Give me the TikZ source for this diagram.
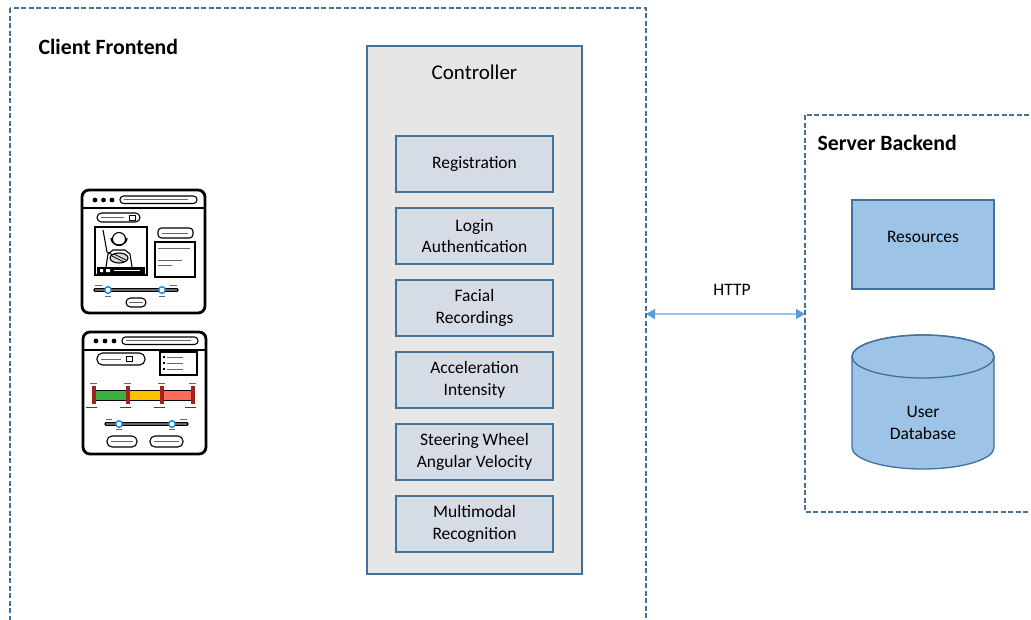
\documentclass[tikz,border=0pt]{standalone}
\usepackage{fontspec}
\setmainfont{Carlito}
\usetikzlibrary{arrows.meta,positioning}

\definecolor{boxline}{HTML}{41719C}
\definecolor{ctrlfill}{HTML}{E7E6E6}
\definecolor{modfill}{HTML}{D6DCE5}
\definecolor{resfill}{HTML}{9DC3E6}
\definecolor{httpline}{HTML}{9DC3E6}
\definecolor{tipblue}{HTML}{5B9BD5}
\definecolor{knob}{HTML}{1E88E5}
\definecolor{barred}{HTML}{FF6B5B}
\definecolor{baryellow}{HTML}{FFC000}
\definecolor{bargreen}{HTML}{3CB043}
\definecolor{post}{HTML}{A3221C}

\begin{document}
\begin{tikzpicture}[x=1pt,y=-1pt,
    txt/.style = {font=\fontsize{17.5}{21.5}\selectfont, align=center},
    head/.style = {font=\fontsize{21.8}{24}\selectfont\bfseries, anchor=west},
    zone/.style = {draw=boxline, line width=1.3pt, dash pattern=on 5pt off 2.5pt},
    mod/.style = {txt, draw=boxline, fill=modfill, line width=1.3pt,
                  minimum width=157pt, minimum height=56pt, inner sep=0pt},
    link/.style = {draw=httpline, line width=1.5pt,
                   {Triangle[length=9pt,width=10pt,color=tipblue]}-{Triangle[length=9pt,width=10pt,color=tipblue]}},
    win/.style = {draw, line width=2.8pt, rounded corners=7pt, fill=white},
    pill/.style = {draw, line width=1.1pt, rounded corners=3.5pt},
    scrib/.style = {draw=black!60, line width=0.8pt},
    node distance=72pt]
\clip (0,0) rectangle (1031,619);

% client and server zones
\draw[zone] (10,8) rectangle (646,640);
\draw[zone] (805,115) rectangle (1045,512);
\node[head] (client) at (35,47) {Client Frontend};
\node[head] (server) at (814,143) {Server Backend};

% controller with its modules
\node[draw=boxline, fill=ctrlfill, line width=1.3pt, minimum width=215pt,
      minimum height=528pt] (ctrl) at (474.5,310) {};
\node[font=\fontsize{21}{24}\selectfont] (title) at (474.5,72) {Controller};
\node[mod] (1) at (474.5,164) {Registration};
\node[mod] (2) [below of=1] {Login\\Authentication};
\node[mod] (3) [below of=2] {Facial\\Recordings};
\node[mod] (4) [below of=3] {Acceleration\\Intensity};
\node[mod] (5) [below of=4] {Steering Wheel\\Angular Velocity};
\node[mod] (6) [below of=5] {Multimodal\\Recognition};

% backend resources and database
\node[txt, draw=boxline, fill=resfill, line width=1.3pt, minimum width=142pt,
      minimum height=89pt, text depth=16pt] (res) at (923,244.5) {Resources};
\draw[draw=boxline, fill=resfill, line width=1.3pt]
  (852,356.5) -- (852,447.5)
  arc[start angle=180, end angle=360, x radius=71pt, y radius=21.5pt]
  -- (994,356.5)
  arc[start angle=0, end angle=180, x radius=71pt, y radius=21.5pt] -- cycle;
\draw[draw=boxline, line width=1.3pt] (923,356.5) ellipse[x radius=71pt, y radius=21.5pt];
\node[txt] (db) at (923,423) {User\\Database};

% http link between the zones
\coordinate (httpL) at (646,314);
\coordinate (httpR) at (805,314);
\draw[link] (httpL) -- (httpR);
\node[txt] (http) at (732,290) {HTTP};

% first screen sketch: video import
\begin{scope}[shift={(82,190)}]
  \draw[win] (0,0) rectangle (123,123);
  \draw[line width=2pt] (0,18) -- (123,18);
  \foreach \dx in {13,21.5,30} \fill (\dx,10) circle (2.4pt);
  \draw[pill] (38,6) rectangle (115,13.5);
  \draw[scrib] (42,9.8) -- (106,9.8);
  \draw[pill, rounded corners=4.5pt] (15,23) rectangle (58,32);
  \draw[scrib] (19,27.5) -- (42,27.5);
  \draw[line width=0.9pt] (47,25) rectangle (53,30);
  % video frame with driver
  \draw[line width=1.5pt] (13,37) rectangle (65,85);
  \draw[line width=1.1pt] (37,49) circle (6.5pt);
  \draw[line width=1.3pt] (29,48) arc[start angle=180, end angle=360, x radius=8pt, y radius=7pt];
  \draw[line width=1.1pt] (24,77) -- (26,64) -- (31,60) -- (43,60) -- (48,64) -- (50,77);
  \draw[line width=1.1pt] (21,40) -- (25,62) -- (33,66);
  \draw[line width=1.1pt, fill=black!15] (37,68) ellipse[x radius=9pt, y radius=5pt];
  \draw[line width=0.7pt] (30,66) -- (42,72) (32,64) -- (44,70);
  \fill (15,77) rectangle (63,84);
  \fill[white] (18,79) rectangle (21,82) (24,79) rectangle (28,82);
  \draw[white, line width=0.6pt] (32,80.5) -- (58,80.5);
  % side notes
  \draw[pill] (76,38) rectangle (111,48);
  \draw[scrib] (80,43) -- (106,43);
  \draw[line width=1.3pt] (73,52) rectangle (113,87);
  \draw[scrib] (76,58) -- (108,58) (76,70) -- (100,70) (76,75) -- (90,75);
  % time slider
  \draw[line width=3.2pt, line cap=round] (13,100) -- (95,100);
  \draw[line width=1.6pt, black!60] (13,100) -- (95,100);
  \draw[scrib] (13,95) -- (20,95) (88,95) -- (95,95) (23,106) -- (29,106) (77,106) -- (83,106);
  \foreach \kx in {26,80} \draw[draw=knob, fill=white, line width=1.4pt] (\kx,100) circle (3.3pt);
  \draw[pill, rounded corners=4.5pt] (44,108) rectangle (64,117);
  \draw[scrib] (47,112.5) -- (61,112.5);
\end{scope}

% second screen sketch: fatigue report
\begin{scope}[shift={(83,332)}]
  \draw[win] (0,0) rectangle (123,122);
  \draw[line width=2pt] (0,18) -- (123,18);
  \foreach \dx in {13,22,31} \fill (\dx,9) circle (2.4pt);
  \draw[pill] (39,5) rectangle (115,12.5);
  \draw[scrib] (43,8.8) -- (108,8.8);
  \draw[pill, rounded corners=5.5pt] (14,21) rectangle (62,33);
  \draw[scrib] (18,27) -- (38,27);
  \draw[line width=0.9pt] (43,24.5) rectangle (49,29.5);
  \draw[line width=1.3pt] (77,20) rectangle (114,43);
  \foreach \ly in {25,31,37} {
    \fill (80,\ly-1) rectangle (82,\ly+1);
    \draw[scrib] (84,\ly) -- (100,\ly);
  }
  % fatigue level bar
  \fill[bargreen] (11,58) rectangle (45,68);
  \fill[baryellow] (45,58) rectangle (79,68);
  \fill[barred] (79,58) rectangle (111,68);
  \draw[line width=0.7pt] (11,58) rectangle (111,68);
  \foreach \px in {11,45,79,110} {
    \fill[post] (\px-1.7,54) rectangle (\px+1.7,72);
    \draw[scrib] (\px-4,51) -- (\px+3,51);
    \draw[draw=red!80!black, line width=0.8pt] (\px-8,75.5) -- (\px+3,75.5);
  }
  % range slider
  \draw[line width=3.2pt, line cap=round] (23,92) -- (104,92);
  \draw[line width=1.6pt, black!60] (23,92) -- (104,92);
  \draw[scrib] (23,87) -- (29,87) (97,87) -- (104,87) (33,97) -- (39,97) (86,97) -- (92,97);
  \foreach \kx in {36,89} \draw[draw=knob, fill=white, line width=1.4pt] (\kx,92) circle (3.3pt);
  \draw[pill, rounded corners=5pt] (24,104) rectangle (54,115);
  \draw[scrib] (28,109.5) -- (50,109.5);
  \draw[pill, rounded corners=5pt] (67,104) rectangle (100,115);
  \draw[scrib] (71,109.5) -- (96,109.5);
\end{scope}
\end{tikzpicture}
\end{document}
